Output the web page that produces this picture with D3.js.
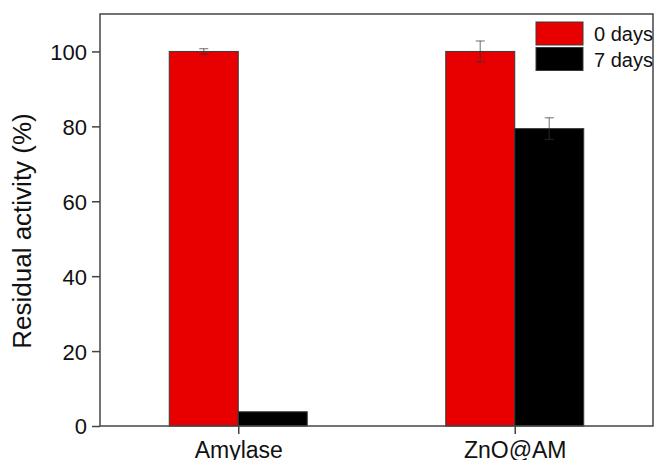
<!DOCTYPE html>
<html>
<head>
<meta charset="utf-8">
<script src="https://cdn.jsdelivr.net/npm/d3@7"></script>
<style>
  html, body { margin: 0; padding: 0; background: #fff; }
  svg { display: block; font-family: Arial, "Liberation Sans", sans-serif; }
</style>
</head>
<body>
<svg id="chart" width="654" height="460"></svg>
<script>
// Residual enzyme activity after storage
const categories = ["Amylase", "ZnO@AM"];
const seriesNames = ["0 days", "7 days"];
const day0Values = [100, 100];
const day0Errors = [0.75, 2.8];
const day7Values = [3.8, 79.4];
const day7Errors = [0, 2.9];
const yTicks = [0, 20, 40, 60, 80, 100];
const seriesColors = ["#e80000", "#000000"];

const series = [
  { name: seriesNames[0], values: day0Values, errors: day0Errors, color: seriesColors[0] },
  { name: seriesNames[1], values: day7Values, errors: day7Errors, color: seriesColors[1] }
];

const svg = d3.select("#chart");
const margin = { left: 100, right: 653, top: 14, bottom: 426 };
const axisColor = "#444";

const x = d3.scalePoint().domain(categories).range([margin.left, margin.right]).padding(0.5);
const barW = 69;
const xs = d3.scaleBand().domain(seriesNames).range([-barW, barW]);
const y = d3.scaleLinear().domain([0, 110]).range([margin.bottom, margin.top]);

// bars
const groups = svg.append("g").selectAll("g")
  .data(series).join("g");

groups.selectAll("rect")
  .data(s => s.values.map((v, i) => ({ v, cat: categories[i], s })))
  .join("rect")
  .attr("x", d => x(d.cat) + xs(d.s.name))
  .attr("y", d => y(d.v))
  .attr("width", xs.bandwidth())
  .attr("height", d => y(0) - y(d.v))
  .attr("fill", d => d.s.color)
  .attr("stroke", "#3a3a3a")
  .attr("stroke-width", 1);

// error bars
const capW = 9;
series.forEach(s => {
  s.values.forEach((v, i) => {
    const e = s.errors[i];
    if (!e) return;
    const cx = x(categories[i]) + xs(s.name) + xs.bandwidth() / 2;
    const g = svg.append("g")
      .attr("stroke", "#333")
      .attr("stroke-opacity", 0.55)
      .attr("stroke-width", 1.3);
    g.append("line").attr("x1", cx).attr("x2", cx).attr("y1", y(v + e)).attr("y2", y(v - e));
    g.append("line").attr("x1", cx - capW / 2).attr("x2", cx + capW / 2).attr("y1", y(v + e)).attr("y2", y(v + e));
    g.append("line").attr("x1", cx - capW / 2).attr("x2", cx + capW / 2).attr("y1", y(v - e)).attr("y2", y(v - e));
  });
});

// frame
svg.append("rect")
  .attr("x", margin.left).attr("y", margin.top)
  .attr("width", margin.right - margin.left)
  .attr("height", margin.bottom - margin.top)
  .attr("fill", "none")
  .attr("stroke", axisColor)
  .attr("stroke-width", 1.5);

// y axis
const yAxis = d3.axisLeft(y).tickValues(yTicks).tickSize(8).tickPadding(5);
const gy = svg.append("g").attr("transform", `translate(${margin.left},0)`).call(yAxis);
gy.select(".domain").remove();
gy.selectAll(".tick line").attr("stroke", axisColor).attr("stroke-width", 1.5);
gy.selectAll(".tick text")
  .attr("font-size", 22)
  .attr("font-family", "Arial, 'Liberation Sans', sans-serif")
  .attr("fill", "#111")
  .attr("dy", "0.36em");

// x axis
const xAxis = d3.axisBottom(x).tickSize(8).tickPadding(8);
const gx = svg.append("g").attr("transform", `translate(0,${margin.bottom})`).call(xAxis);
gx.select(".domain").remove();
gx.selectAll(".tick line").attr("stroke", axisColor).attr("stroke-width", 1.5);
gx.selectAll(".tick text")
  .attr("font-size", 23)
  .attr("font-family", "Arial, 'Liberation Sans', sans-serif")
  .attr("fill", "#111")
  .attr("dy", "0.71em");

// y title
svg.append("text")
  .attr("transform", `translate(31,231) rotate(-90)`)
  .attr("text-anchor", "middle")
  .attr("font-size", 26)
  .attr("fill", "#111")
  .text("Residual activity (%)");

// legend
const legend = svg.append("g").selectAll("g")
  .data(series).join("g")
  .attr("transform", (d, i) => `translate(536,${22 + i * 25.5})`);
legend.append("rect")
  .attr("width", 47).attr("height", 23)
  .attr("fill", d => d.color)
  .attr("stroke", "#3a3a3a").attr("stroke-width", 1);
legend.append("text")
  .attr("x", 58).attr("y", 19)
  .attr("font-size", 20)
  .attr("fill", "#111")
  .text(d => d.name);
</script>
</body>
</html>
